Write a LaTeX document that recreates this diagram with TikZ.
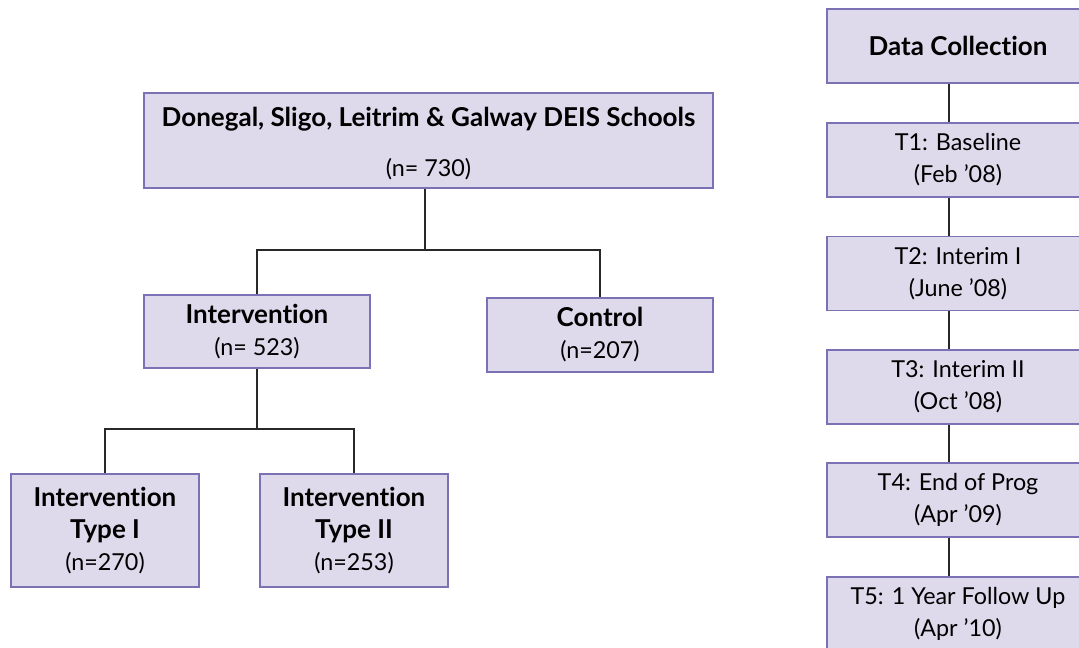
\documentclass[tikz,border=0pt]{standalone}
\usepackage{fontspec}
\setmainfont{Lato}[Ligatures=NoCommon]
\usetikzlibrary{positioning,calc}
\definecolor{boxfill}{RGB}{222,218,236}
\definecolor{boxline}{RGB}{122,114,180}
\definecolor{linkgray}{RGB}{40,40,40}
\newcommand{\hd}[1]{{\fontsize{19.5}{24}\selectfont\bfseries #1}}

\begin{document}
\begin{tikzpicture}[
      x=0.75pt, y=-0.75pt,
      font=\fontsize{17.5}{24}\selectfont,
      grp/.style={draw=boxline, fill=boxfill, line width=1.1pt,
                  align=center, inner sep=0pt},
      tbox/.style={grp, minimum width=196.5pt, minimum height=55.5pt},
      lnk/.style={draw=linkgray, line width=1pt}
    ]
    \clip (0,0) rectangle (1079,648);
    % study groups
    \node[grp, minimum width=426.75pt, minimum height=71.25pt] (all) at (428.5,140.5)
      {\rule{0pt}{19pt}\hd{Donegal, Sligo, Leitrim \& Galway DEIS Schools}\\[14pt](n= 730)};
    \node[grp, minimum width=169.5pt, minimum height=54.75pt] (interv) at (257,331.5)
      {\hd{Intervention}\\(n= 523)};
    \node[grp, minimum width=169.5pt, minimum height=55.5pt] (control) at (600,335)
      {\hd{Control}\\(n=207)};
    \node[grp, minimum width=141pt, minimum height=84.75pt] (typeI) at (105,530.5)
      {\hd{Intervention}\\\hd{Type I}\\(n=270)};
    \node[grp, minimum width=141pt, minimum height=84.75pt] (typeII) at (354,530.5)
      {\hd{Intervention}\\\hd{Type II}\\(n=253)};

    \coordinate (split1) at (425,250);
    \coordinate (split2) at (257,429);
    \draw[lnk] (all.south -| split1) -- (split1);
    \draw[lnk] (interv.north) |- (split1) -| (control.north);
    \draw[lnk] (interv.south) -- (split2);
    \draw[lnk] (typeI.north) |- (split2) -| (typeII.north);

    % data collection time points
    \node[tbox] (dc) at (958,46) {\hd{Data Collection}};
    \node[tbox] (t1) at (958,160) {T1: Baseline\\(Feb ’08)};
    \node[tbox] (t2) at (958,273.5) {T2: Interim I\\(June ’08)};
    \node[tbox] (t3) at (958,387) {T3: Interim II\\(Oct ’08)};
    \node[tbox] (t4) at (958,500) {T4: End of Prog\\(Apr ’09)};
    \node[tbox] (t5) at (958,614) {T5: 1 Year Follow Up\\(Apr ’10)};

    \coordinate (axis) at (949,0);
    \foreach \a/\b in {dc/t1, t1/t2, t2/t3, t3/t4, t4/t5}
      \draw[lnk] (\a.south -| axis) -- (\b.north -| axis);
  \end{tikzpicture}
\end{document}
